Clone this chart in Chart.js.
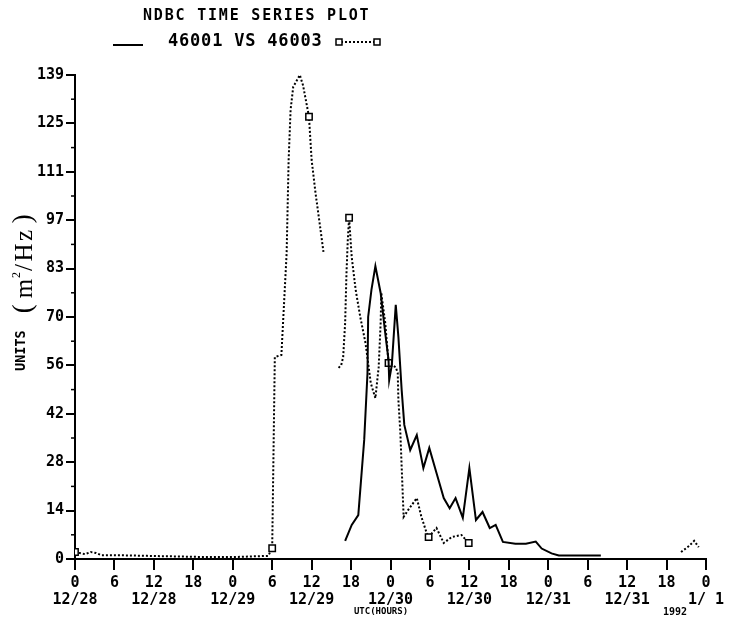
<!DOCTYPE html>
<html>
<head>
<meta charset="utf-8">
<script src="https://cdn.jsdelivr.net/npm/chart.js@4.4.0/dist/chart.umd.min.js"></script>
<style>
html, body { margin: 0; padding: 0; background: #fff; }
#wrap { position: relative; width: 734px; height: 621px; }
</style>
</head>
<body>
<div id="wrap"><canvas id="NdbcChart" width="734" height="621"></canvas></div>
<script>
// hours since 12/28 00 UTC
const xTickHours = [0, 6, 12, 18, 24, 30, 36, 42, 48, 54, 60, 66, 72, 78, 84, 90, 96];
const xTickNumbers = ['0', '6', '12', '18', '0', '6', '12', '18', '0', '6', '12', '18', '0', '6', '12', '18', '0'];
const xTickDates = ['12/28', '', '12/28', '', '12/29', '', '12/29', '', '12/30', '', '12/30', '', '12/31', '', '12/31', '', '1/ 1'];
const yTickLabels = ['0', '14', '28', '42', '56', '70', '83', '97', '111', '125', '139'];
const yMax = 139;

// 46001 (solid)
const buoy46001Hours = [41.1, 42.1, 43.1, 44.0, 44.5, 44.6, 45.1, 45.7, 46.5, 47.2, 47.7, 47.8, 48.2, 48.8, 49.2, 49.7, 50.1, 51.0, 52.0, 53.0, 53.9, 55.0, 56.1, 57.0, 57.9, 59.0, 60.0, 61.0, 62.0, 63.1, 64.0, 65.1, 67.0, 68.6, 70.1, 71.0, 72.5, 73.6, 80.0];
const buoy46001Values = [5.2, 9.8, 12.6, 34.2, 53.4, 69.5, 77.3, 84.1, 76.4, 64.9, 57.2, 51.4, 55.7, 73.0, 63.8, 48.5, 38.5, 31.3, 35.6, 26.1, 31.9, 24.7, 17.5, 14.6, 17.5, 11.8, 26.1, 11.2, 13.5, 8.9, 9.8, 4.9, 4.4, 4.4, 5.0, 3.0, 1.6, 1.0, 1.0];

// 46003 (dotted, squares), null = gap
const buoy46003Hours = [0, 1.5, 2.4, 3.2, 4.0, 6.2, 11.0, 18.7, 24.8, 29.4, 30.0, 30.4, 31.4, 32.2, 32.5, 32.8, 33.2, 34.2, 34.7, 35.6, 36.0, 36.6, 37.3, 37.8, 38.5, 40.1, 40.5, 40.8, 41.1, 41.3, 41.5, 41.7, 42.1, 42.7, 43.4, 44.2, 45.0, 45.7, 46.2, 46.5, 46.6, 47.2, 47.7, 48.8, 49.1, 49.2, 49.5, 49.7, 50.0, 50.7, 52.0, 52.7, 53.5, 53.8, 55.0, 56.1, 57.3, 58.8, 59.9, 61.0, 92.2, 93.4, 94.2, 94.9];
const buoy46003Values = [2.0, 1.4, 2.0, 1.7, 1.1, 1.1, 0.9, 0.6, 0.6, 0.9, 3.1, 58.0, 58.6, 87.9, 114.6, 129.0, 135.6, 139.0, 136.0, 127.0, 114.6, 105.0, 95.3, 88.2, null, 54.9, 55.7, 58.0, 67.8, 82.0, 91.6, 98.0, 86.7, 77.3, 69.5, 62.0, 50.5, 46.2, 55.1, 67.8, 76.4, 67.8, 56.3, 55.1, 53.4, 45.7, 36.2, 26.4, 12.1, 14.1, 17.5, 12.1, 7.5, 6.3, 8.9, 4.6, 6.3, 6.9, 4.6, null, 2.0, 3.7, 5.2, 3.4];
const buoy46003MarkerHours = [0, 30.0, 35.6, 41.7, 47.7, 53.8, 59.9];

const plotFont = '"DejaVu Sans Mono", monospace';
const serifFont = '"Liberation Serif", "DejaVu Serif", serif';

const toPoints = (hours, values) => hours.map((h, i) => ({ x: h, y: values[i] }));

const decor = {
    id: 'ndbcDecor',
    afterDraw(chart) {
        const ctx = chart.ctx;
        const area = chart.chartArea;
        const y = chart.scales.y;
        ctx.save();
        ctx.fillStyle = '#000';
        ctx.strokeStyle = '#000';

        // title + legend line
        ctx.textBaseline = 'middle';
        ctx.textAlign = 'left';
        ctx.font = 'bold 15px ' + plotFont;
        ctx.letterSpacing = '1.8px';
        ctx.fillText('NDBC TIME SERIES PLOT', 143, 16);
        ctx.font = 'bold 17px ' + plotFont;
        ctx.letterSpacing = '0.8px';
        ctx.fillText('46001 VS 46003', 168, 42);
        ctx.letterSpacing = '0px';

        ctx.lineWidth = 2;
        ctx.beginPath();
        ctx.moveTo(113, 45);
        ctx.lineTo(143, 45);
        ctx.stroke();

        ctx.setLineDash([2, 2]);
        ctx.beginPath();
        ctx.moveTo(341, 42);
        ctx.lineTo(376, 42);
        ctx.stroke();
        ctx.setLineDash([]);
        ctx.lineWidth = 1.5;
        ctx.fillStyle = '#fff';
        [339, 377].forEach(px => {
            ctx.fillRect(px - 3, 39, 6, 6);
            ctx.strokeRect(px - 3, 39, 6, 6);
        });
        ctx.fillStyle = '#000';

        // minor y ticks
        ctx.lineWidth = 1.5;
        for (let i = 0; i < 10; i++) {
            const py = y.getPixelForValue((i + 0.5) * yMax / 10);
            ctx.beginPath();
            ctx.moveTo(area.left - 4, py);
            ctx.lineTo(area.left, py);
            ctx.stroke();
        }

        // small axis notes
        ctx.font = 'bold 9px ' + plotFont;
        ctx.textAlign = 'center';
        ctx.fillText('UTC(HOURS)', 381, 612);
        ctx.font = 'bold 10px ' + plotFont;
        ctx.fillText('1992', 675, 612);

        // y axis title, reads bottom to top
        ctx.translate(0, 371);
        ctx.rotate(-Math.PI / 2);
        ctx.textAlign = 'left';
        ctx.textBaseline = 'alphabetic';
        let tx = 0;
        const part = (text, font, baseX, spacing) => {
            ctx.font = font;
            ctx.letterSpacing = (spacing || 0) + 'px';
            ctx.fillText(text, tx, baseX);
            tx += ctx.measureText(text).width;
        };
        part('UNITS', 'bold 13.5px ' + plotFont, 25);
        tx += 17;
        part('(', '27px ' + serifFont, 31);
        tx += 6;
        part('m', '25px ' + serifFont, 32);
        tx += 1;
        part('2', '12px ' + serifFont, 20);
        tx += 1;
        part('/Hz', '25px ' + serifFont, 32, 2.5);
        tx += 4;
        part(')', '27px ' + serifFont, 31);
        ctx.restore();
    }
};

const canvas = document.getElementById('NdbcChart');
const chart = new Chart(canvas.getContext('2d'), {
    type: 'line',
    data: {
        datasets: [
            {
                label: '46001',
                data: toPoints(buoy46001Hours, buoy46001Values),
                borderColor: '#000',
                borderWidth: 2,
                pointRadius: 0,
                tension: 0,
                spanGaps: false
            },
            {
                label: '46003',
                data: toPoints(buoy46003Hours, buoy46003Values),
                borderColor: '#000',
                borderWidth: 2,
                borderDash: [2, 2],
                tension: 0,
                spanGaps: false,
                pointStyle: 'rect',
                pointRadius: (c) => (c.raw && buoy46003MarkerHours.includes(c.raw.x) ? 4.5 : 0),
                pointBackgroundColor: '#fff',
                pointBorderColor: '#000',
                pointBorderWidth: 1.5
            }
        ]
    },
    options: {
        responsive: false,
        animation: false,
        layout: { padding: { top: 75, right: 28, bottom: 0, left: 0 } },
        plugins: {
            legend: { display: false },
            tooltip: { enabled: false },
            title: { display: false }
        },
        scales: {
            x: {
                type: 'linear',
                min: 0,
                max: 96,
                afterBuildTicks: (scale) => {
                    scale.ticks = xTickHours.map(v => ({ value: v }));
                },
                afterFit: (scale) => { scale.height = 62; },
                ticks: {
                    autoSkip: false,
                    maxRotation: 0,
                    color: '#000',
                    padding: 4,
                    font: { family: plotFont, size: 15, weight: 'bold', lineHeight: 1.15 },
                    callback: (value, index) => [xTickNumbers[index], xTickDates[index]]
                },
                grid: { drawOnChartArea: false, drawTicks: true, tickLength: 11, color: '#000', lineWidth: 2 },
                border: { display: true, color: '#000', width: 2 }
            },
            y: {
                min: 0,
                max: yMax,
                afterBuildTicks: (scale) => {
                    scale.ticks = yTickLabels.map((_, i) => ({ value: i * yMax / 10 }));
                },
                afterFit: (scale) => { scale.width = 75; },
                ticks: {
                    color: '#000',
                    padding: 2,
                    font: { family: plotFont, size: 15, weight: 'bold' },
                    callback: (value, index) => yTickLabels[index]
                },
                grid: { drawOnChartArea: false, drawTicks: true, tickLength: 9, color: '#000', lineWidth: 2 },
                border: { display: true, color: '#000', width: 2 }
            }
        }
    },
    plugins: [decor]
});
</script>
</body>
</html>
